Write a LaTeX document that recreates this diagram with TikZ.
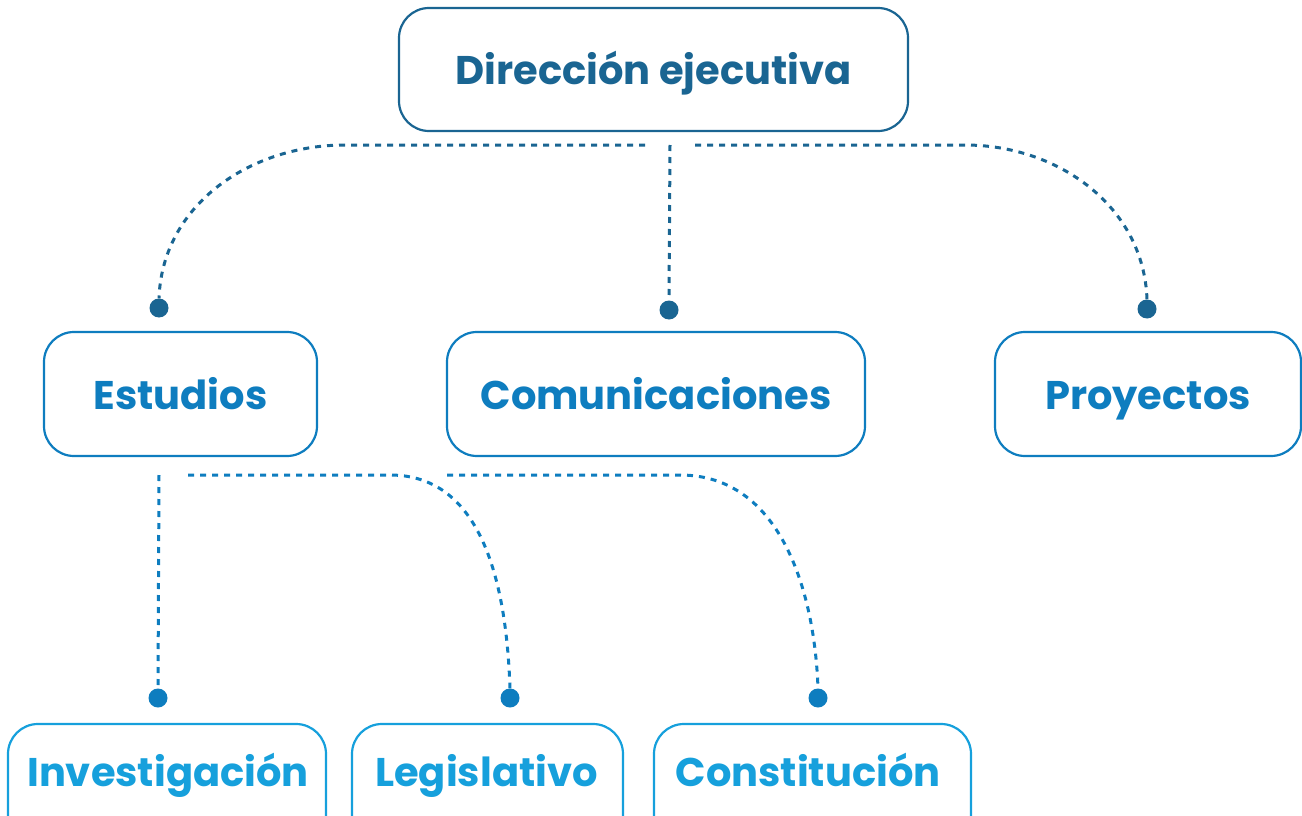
\documentclass[tikz,border=0pt]{standalone}
\usepackage{fontspec}
\setmainfont{Poppins}
\definecolor{cTop}{HTML}{1A6592}
\definecolor{cMid}{HTML}{0E7DBF}
\definecolor{cLow}{HTML}{16A0DC}
\tikzset{
  lbl/.style={font=\fontsize{40}{44}\selectfont\bfseries},
  box/.style={draw, line width=2.2pt, rounded corners=30pt, fill=white, inner sep=0pt, lbl, text height=30pt, text depth=0pt},
  conn/.style={line width=3pt, dash pattern=on 6pt off 6pt},
  dot/.style={circle, fill, inner sep=0pt, minimum size=19pt},
}
\begin{document}
\begin{tikzpicture}[x=1pt,y=-1pt]
\useasboundingbox (0,0) rectangle (1302,816);
\begin{scope}
\clip (0,0) rectangle (1302,816);
% top level
\node[box, draw=cTop, text=cTop, minimum width=509pt, minimum height=123pt] (dir) at (653.5,69.5) {Dirección ejecutiva};
% mid level
\node[box, draw=cMid, text=cMid, minimum width=273pt, minimum height=124pt] (est) at (180.5,394) {Estudios};
\node[box, draw=cMid, text=cMid, minimum width=418pt, minimum height=124pt] (com) at (656,394) {Comunicaciones};
\node[box, draw=cMid, text=cMid, minimum width=306pt, minimum height=124pt] (pro) at (1148,394) {Proyectos};
% low level
\node[box, draw=cLow, minimum width=318pt, minimum height=124pt] (inv) at (167,786) {};
\node[box, draw=cLow, minimum width=271pt, minimum height=124pt] (leg) at (487.5,786) {};
\node[box, draw=cLow, minimum width=317pt, minimum height=124pt] (con) at (812.5,786) {};
\end{scope}
\node[lbl, text=cLow, anchor=base] (invt) at (168,786) {Investigación};
\node[lbl, text=cLow, anchor=base] (legt) at (486.5,786) {Legislativo};
\node[lbl, text=cLow, anchor=base] (cont) at (808,786) {Constitución};

% top connectors
\node[dot, cTop] (d1) at (159,308) {};
\node[dot, cTop] (d2) at (669,310) {};
\node[dot, cTop] (d3) at (1147,309) {};
\coordinate (tl) at (645,145);
\coordinate (tc) at (670,145);
\coordinate (tr) at (695,145);
\draw[conn, cTop] (tl) -- (345,145) to[out=180,in=88] (d1.north);
\draw[conn, cTop] (tc) -- (d2.north);
\draw[conn, cTop] (tr) -- (965,145) to[out=0,in=92] (d3.north);

% lower connectors
\node[dot, cMid] (d4) at (158,698) {};
\node[dot, cMid] (d5) at (510,698) {};
\node[dot, cMid] (d6) at (818,698) {};
\coordinate (l1) at (159,475);
\coordinate (l2) at (188,475);
\coordinate (l3) at (447,475);
\draw[conn, cMid] (l1) -- (d4.north);
\draw[conn, cMid] (l2) -- (390,475) to[out=0,in=92] (d5.north);
\draw[conn, cMid] (l3) -- (680,475) to[out=0,in=92] (d6.north);
\end{tikzpicture}
\end{document}
